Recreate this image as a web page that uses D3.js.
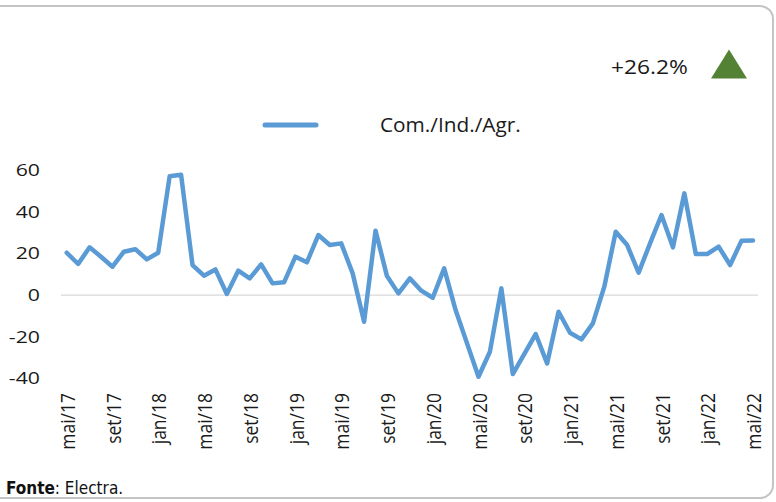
<!DOCTYPE html>
<html>
<head>
<meta charset="utf-8">
<script src="https://cdn.jsdelivr.net/npm/d3@7"></script>
<style>
  body { margin: 0; background: #fff; }
  svg { display: block; }
</style>
</head>
<body>
<svg id="chart" width="776" height="502"></svg>
<script>
const seriesName = "Com./Ind./Agr.";
const values = [
  20.3, 14.9, 22.9, 18.4, 13.6, 20.8, 22, 17.1, 20.3, 57, 57.7, 14.4, 9.3,
  12.3, 0.5, 11.7, 8, 14.7, 5.6, 6.1, 18.4, 15.7, 28.8, 24, 24.8, 10.4, -12.8,
  30.9, 9.1, 0.8, 8, 2.1, -1.3, 12.8, -7.2, -23.2, -39.2, -27.2, 3.2, -37.9,
  -28.3, -18.7, -32.8, -8, -18.1, -21.3, -13.6, 4, 30.4, 24, 10.7, 24.8, 38.4,
  22.9, 48.8, 19.7, 19.7, 23.2, 14.4, 26.1, 26.2
];
const tickLabels = [
  "mai/17", "set/17", "jan/18", "mai/18", "set/18", "jan/19", "mai/19", "set/19",
  "jan/20", "mai/20", "set/20", "jan/21", "mai/21", "set/21", "jan/22", "mai/22"
];
const yTicks = [-40, -20, 0, 20, 40, 60];
const changeLabel = "+26.2%";

const lineColor = "#5b9bd5";
const font = "'Open Sans', sans-serif";

const svg = d3.select("#chart");

// card frame, left side runs off the page
svg.append("rect")
  .attr("x", -20).attr("y", 6)
  .attr("width", 793).attr("height", 492)
  .attr("rx", 13)
  .attr("fill", "#fff")
  .attr("stroke", "#c4c4c4")
  .attr("stroke-width", 2);

const x = d3.scaleLinear().domain([0, values.length - 1]).range([66.7, 753]);
const y = d3.scaleLinear().domain([-40, 60]).range([378.4, 170]);

// zero line
svg.append("line")
  .attr("x1", 61).attr("x2", 758)
  .attr("y1", y(0)).attr("y2", y(0))
  .attr("stroke", "#d9d9d9")
  .attr("stroke-width", 1.3);

// y axis labels (source text is a bit wider than Open Sans)
svg.append("g")
  .selectAll("text")
  .data(yTicks)
  .join("text")
  .attr("transform", (d) => `translate(40,${y(d)}) scale(1.25,1)`)
  .attr("dy", "0.35em")
  .attr("text-anchor", "end")
  .attr("font-family", font)
  .attr("font-size", 17)
  .attr("fill", "#1a1a1a")
  .text((d) => d);

// x axis labels, one every four months
svg.append("g")
  .selectAll("text")
  .data(tickLabels)
  .join("text")
  .attr("transform", (d, i) => `translate(${x(i * 4) + 1},393) rotate(-90) scale(1,1.12)`)
  .attr("dy", "0.36em")
  .attr("text-anchor", "end")
  .attr("font-family", font)
  .attr("font-size", 17.5)
  .attr("fill", "#1a1a1a")
  .text((d) => d);

const line = d3.line()
  .x((d, i) => x(i))
  .y((d) => y(d));

svg.append("path")
  .datum(values)
  .attr("d", line)
  .attr("fill", "none")
  .attr("stroke", lineColor)
  .attr("stroke-width", 4.5)
  .attr("stroke-linejoin", "round")
  .attr("stroke-linecap", "round");

// legend
svg.append("line")
  .attr("x1", 265).attr("x2", 316)
  .attr("y1", 125).attr("y2", 125)
  .attr("stroke", lineColor)
  .attr("stroke-width", 5)
  .attr("stroke-linecap", "round");
svg.append("text")
  .attr("transform", "translate(380,131.5) scale(1.04,1)")
  .attr("font-family", font)
  .attr("font-size", 20)
  .attr("fill", "#1a1a1a")
  .text(seriesName);

// change indicator
svg.append("text")
  .attr("transform", "translate(611,73.5) scale(1.14,1)")
  .attr("font-family", font)
  .attr("font-size", 20)
  .attr("fill", "#1a1a1a")
  .text(changeLabel);
svg.append("path")
  .attr("d", d3.line()([[711, 78.5], [729, 49.5], [747, 78.5]]) + "Z")
  .attr("fill", "#548235");

// source
const src = svg.append("text")
  .attr("x", 6).attr("y", 494)
  .attr("font-family", "'Liberation Sans Narrow', 'DejaVu Sans Condensed', sans-serif")
  .attr("font-size", 17)
  .attr("fill", "#111");
src.append("tspan").attr("font-weight", "bold").text("Fonte");
src.append("tspan").text(": Electra.");
</script>
</body>
</html>
